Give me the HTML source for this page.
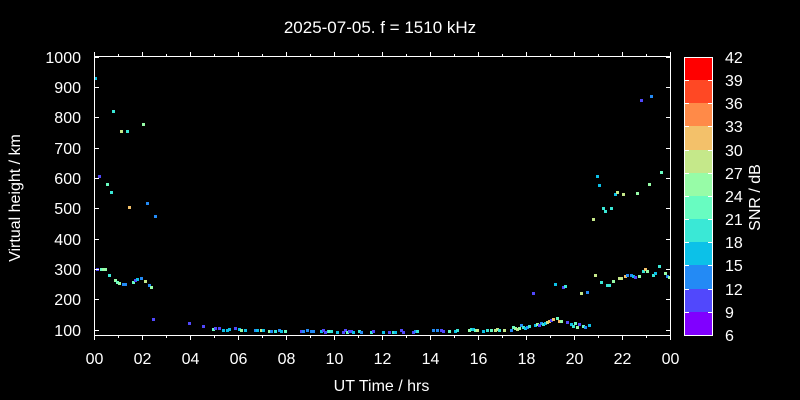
<!DOCTYPE html>
<html><head><meta charset="utf-8"><style>
html,body{margin:0;padding:0;background:#000;}
svg{display:block;}
text{font-family:"Liberation Sans",Arial,sans-serif;fill:#fff;}
.P{fill:#5148fc}.B{fill:#238af5}.C{fill:#0cc1e8}.T{fill:#3ae8d6}.G{fill:#68fcc1}.L{fill:#97fca7}.Y{fill:#c5e88a}.O{fill:#f3c16a}
</style></head><body>
<svg width="800" height="400" viewBox="0 0 800 400" xmlns="http://www.w3.org/2000/svg" shape-rendering="crispEdges">
<rect x="0" y="0" width="800" height="400" fill="#000"/>
<text x="380" y="33" font-size="17" text-anchor="middle">2025-07-05. f = 1510 kHz</text>

<!-- points -->
<g>
<rect class="C" x="94" y="77" width="3" height="3"/>
<rect class="P" x="98" y="175" width="3" height="3"/>
<rect class="T" x="112" y="110" width="3" height="3"/>
<rect class="G" x="106" y="183" width="3" height="3"/>
<rect class="T" x="110" y="191" width="3" height="3"/>
<rect class="Y" x="120" y="130" width="3" height="3"/>
<rect class="T" x="126" y="130" width="3" height="3"/>
<rect class="L" x="142" y="123" width="3" height="3"/>
<rect class="O" x="128" y="206" width="3" height="3"/>
<rect class="B" x="146" y="202" width="3" height="3"/>
<rect class="B" x="154" y="215" width="3" height="3"/>
<rect class="P" x="96" y="268" width="3" height="3"/>
<rect class="G" x="100" y="268" width="3" height="3"/>
<rect class="L" x="102" y="268" width="3" height="3"/>
<rect class="L" x="104" y="268" width="3" height="3"/>
<rect class="T" x="108" y="274" width="3" height="3"/>
<rect class="L" x="114" y="279" width="3" height="3"/>
<rect class="G" x="116" y="281" width="3" height="3"/>
<rect class="L" x="118" y="282" width="3" height="3"/>
<rect class="B" x="122" y="283" width="3" height="3"/>
<rect class="B" x="124" y="283" width="3" height="3"/>
<rect class="G" x="132" y="281" width="3" height="3"/>
<rect class="P" x="134" y="279" width="3" height="3"/>
<rect class="C" x="136" y="278" width="3" height="3"/>
<rect class="B" x="140" y="277" width="3" height="3"/>
<rect class="Y" x="144" y="280" width="3" height="3"/>
<rect class="B" x="148" y="284" width="3" height="3"/>
<rect class="L" x="150" y="286" width="3" height="3"/>
<rect class="P" x="152" y="318" width="3" height="3"/>
<rect class="P" x="188" y="322" width="3" height="3"/>
<rect class="P" x="202" y="325" width="3" height="3"/>

<rect class="G" x="212" y="328" width="3" height="3"/>
<rect class="P" x="214" y="327" width="3" height="3"/>
<rect class="P" x="218" y="327" width="3" height="3"/>
<rect class="C" x="222" y="329" width="3" height="3"/>
<rect class="C" x="226" y="329" width="3" height="3"/>
<rect class="C" x="228" y="328" width="3" height="3"/>
<rect class="P" x="234" y="327" width="3" height="3"/>
<rect class="C" x="238" y="328" width="3" height="3"/>
<rect class="L" x="240" y="329" width="3" height="3"/>
<rect class="C" x="244" y="329" width="3" height="3"/>
<rect class="B" x="254" y="329" width="3" height="3"/>
<rect class="C" x="256" y="329" width="3" height="3"/>
<rect class="Y" x="260" y="329" width="3" height="3"/>
<rect class="C" x="262" y="329" width="3" height="3"/>
<rect class="L" x="268" y="330" width="3" height="3"/>
<rect class="B" x="270" y="330" width="3" height="3"/>
<rect class="T" x="274" y="330" width="3" height="3"/>
<rect class="B" x="278" y="329" width="3" height="3"/>
<rect class="C" x="280" y="330" width="3" height="3"/>
<rect class="G" x="284" y="330" width="3" height="3"/>
<rect class="P" x="300" y="330" width="3" height="3"/>
<rect class="B" x="302" y="330" width="3" height="3"/>
<rect class="B" x="306" y="329" width="3" height="3"/>
<rect class="B" x="310" y="330" width="3" height="3"/>
<rect class="B" x="312" y="330" width="3" height="3"/>
<rect class="C" x="320" y="330" width="3" height="3"/>
<rect class="P" x="322" y="329" width="3" height="3"/>
<rect class="P" x="324" y="331" width="3" height="3"/>
<rect class="T" x="327" y="330" width="3" height="3"/>
<rect class="G" x="328" y="330" width="3" height="3"/>
<rect class="T" x="330" y="330" width="3" height="3"/>
<rect class="C" x="336" y="331" width="3" height="3"/>
<rect class="P" x="342" y="331" width="3" height="3"/>
<rect class="P" x="344" y="329" width="3" height="3"/>
<rect class="G" x="346" y="331" width="3" height="3"/>
<rect class="P" x="348" y="330" width="3" height="3"/>
<rect class="P" x="350" y="330" width="3" height="3"/>
<rect class="C" x="352" y="331" width="3" height="3"/>
<rect class="T" x="358" y="330" width="3" height="3"/>
<rect class="B" x="360" y="331" width="3" height="3"/>
<rect class="T" x="370" y="331" width="3" height="3"/>
<rect class="P" x="372" y="330" width="3" height="3"/>
<rect class="C" x="382" y="331" width="3" height="3"/>
<rect class="P" x="388" y="331" width="3" height="3"/>
<rect class="T" x="392" y="331" width="3" height="3"/>
<rect class="C" x="394" y="331" width="3" height="3"/>
<rect class="P" x="400" y="329" width="3" height="3"/>
<rect class="P" x="402" y="331" width="3" height="3"/>
<rect class="P" x="412" y="331" width="3" height="3"/>
<rect class="B" x="414" y="330" width="3" height="3"/>
<rect class="T" x="416" y="330" width="3" height="3"/>
<rect class="B" x="432" y="329" width="3" height="3"/>
<rect class="B" x="436" y="329" width="3" height="3"/>
<rect class="P" x="440" y="329" width="3" height="3"/>
<rect class="P" x="442" y="330" width="3" height="3"/>
<rect class="G" x="448" y="330" width="3" height="3"/>
<rect class="C" x="454" y="330" width="3" height="3"/>
<rect class="T" x="456" y="329" width="3" height="3"/>
<rect class="L" x="468" y="329" width="3" height="3"/>
<rect class="T" x="470" y="328" width="3" height="3"/>
<rect class="C" x="472" y="328" width="3" height="3"/>
<rect class="G" x="474" y="329" width="3" height="3"/>
<rect class="Y" x="476" y="329" width="3" height="3"/>
<rect class="C" x="482" y="330" width="3" height="3"/>
<rect class="T" x="486" y="329" width="3" height="3"/>
<rect class="G" x="490" y="329" width="3" height="3"/>
<rect class="Y" x="494" y="329" width="3" height="3"/>
<rect class="Y" x="496" y="328" width="3" height="3"/>
<rect class="T" x="498" y="329" width="3" height="3"/>
<rect class="Y" x="503" y="329" width="3" height="3"/>
<rect class="B" x="510" y="329" width="3" height="3"/>
<rect class="G" x="512" y="326" width="3" height="3"/>
<rect class="L" x="514" y="327" width="3" height="3"/>
<rect class="Y" x="516" y="328" width="3" height="3"/>
<rect class="L" x="518" y="327" width="3" height="3"/>
<rect class="B" x="520" y="324" width="3" height="3"/>
<rect class="T" x="522" y="326" width="3" height="3"/>
<rect class="C" x="524" y="327" width="3" height="3"/>
<rect class="B" x="526" y="326" width="3" height="3"/>
<rect class="T" x="528" y="325" width="3" height="3"/>
<rect class="C" x="534" y="324" width="3" height="3"/>
<rect class="L" x="536" y="323" width="3" height="3"/>
<rect class="P" x="538" y="324" width="3" height="3"/>
<rect class="B" x="540" y="322" width="3" height="3"/>
<rect class="T" x="542" y="323" width="3" height="3"/>
<rect class="C" x="544" y="322" width="3" height="3"/>
<rect class="Y" x="546" y="321" width="3" height="3"/>
<rect class="O" x="548" y="320" width="3" height="3"/>
<rect class="P" x="550" y="319" width="3" height="3"/>
<rect class="O" x="552" y="318" width="3" height="3"/>
<rect class="G" x="556" y="317" width="3" height="3"/>
<rect class="O" x="558" y="320" width="3" height="3"/>
<rect class="L" x="560" y="320" width="3" height="3"/>
<rect class="P" x="566" y="321" width="3" height="3"/>
<rect class="C" x="570" y="323" width="3" height="3"/>
<rect class="T" x="572" y="325" width="3" height="3"/>
<rect class="G" x="574" y="322" width="3" height="3"/>
<rect class="L" x="576" y="326" width="3" height="3"/>
<rect class="P" x="578" y="323" width="3" height="3"/>
<rect class="G" x="582" y="325" width="3" height="3"/>
<rect class="B" x="584" y="326" width="3" height="3"/>
<rect class="C" x="588" y="324" width="3" height="3"/>

<rect class="P" x="532" y="292" width="3" height="3"/>
<rect class="C" x="554" y="283" width="3" height="3"/>
<rect class="P" x="562" y="286" width="3" height="3"/>
<rect class="T" x="564" y="285" width="3" height="3"/>
<rect class="Y" x="580" y="292" width="3" height="3"/>
<rect class="B" x="586" y="291" width="3" height="3"/>
<rect class="Y" x="594" y="274" width="3" height="3"/>
<rect class="T" x="600" y="281" width="3" height="3"/>
<rect class="T" x="606" y="284" width="3" height="3"/>
<rect class="T" x="608" y="284" width="3" height="3"/>
<rect class="L" x="612" y="280" width="3" height="3"/>
<rect class="Y" x="618" y="277" width="3" height="3"/>
<rect class="Y" x="620" y="277" width="3" height="3"/>
<rect class="O" x="624" y="275" width="3" height="3"/>
<rect class="B" x="626" y="274" width="3" height="3"/>
<rect class="B" x="630" y="274" width="3" height="3"/>
<rect class="C" x="632" y="275" width="3" height="3"/>
<rect class="P" x="634" y="276" width="3" height="3"/>
<rect class="L" x="638" y="275" width="3" height="3"/>
<rect class="T" x="642" y="270" width="3" height="3"/>
<rect class="O" x="644" y="268" width="3" height="3"/>
<rect class="L" x="646" y="270" width="3" height="3"/>
<rect class="T" x="652" y="274" width="3" height="3"/>
<rect class="C" x="654" y="272" width="3" height="3"/>
<rect class="T" x="658" y="265" width="3" height="3"/>
<rect class="L" x="664" y="272" width="3" height="3"/>
<rect class="B" x="666" y="275" width="3" height="3"/>
<rect class="L" x="668" y="276" width="3" height="3"/>

<rect class="Y" x="592" y="218" width="3" height="3"/>
<rect class="T" x="602" y="207" width="3" height="3"/>
<rect class="T" x="604" y="210" width="3" height="3"/>
<rect class="T" x="610" y="207" width="3" height="3"/>
<rect class="C" x="596" y="175" width="3" height="3"/>
<rect class="C" x="598" y="184" width="3" height="3"/>
<rect class="C" x="614" y="193" width="3" height="3"/>
<rect class="Y" x="616" y="191" width="3" height="3"/>
<rect class="Y" x="622" y="193" width="3" height="3"/>
<rect class="L" x="636" y="192" width="3" height="3"/>
<rect class="L" x="648" y="183" width="3" height="3"/>
<rect class="G" x="660" y="171" width="3" height="3"/>
<rect class="P" x="640" y="99" width="3" height="3"/>
<rect class="B" x="650" y="95" width="3" height="3"/>
</g>

<!-- frame -->
<g fill="#fff">
<rect x="94" y="56" width="577" height="1"/>
<rect x="94" y="335" width="577" height="1"/>
<rect x="94" y="56" width="1" height="280"/>
<rect x="670" y="56" width="1" height="280"/>
<!-- top ticks -->
<rect x="94" y="52" width="1" height="4"/><rect x="118" y="54" width="1" height="2"/>
<rect x="142" y="52" width="1" height="4"/><rect x="166" y="54" width="1" height="2"/>
<rect x="190" y="52" width="1" height="4"/><rect x="214" y="54" width="1" height="2"/>
<rect x="238" y="52" width="1" height="4"/><rect x="262" y="54" width="1" height="2"/>
<rect x="286" y="52" width="1" height="4"/><rect x="310" y="54" width="1" height="2"/>
<rect x="334" y="52" width="1" height="4"/><rect x="358" y="54" width="1" height="2"/>
<rect x="382" y="52" width="1" height="4"/><rect x="406" y="54" width="1" height="2"/>
<rect x="430" y="52" width="1" height="4"/><rect x="454" y="54" width="1" height="2"/>
<rect x="478" y="52" width="1" height="4"/><rect x="502" y="54" width="1" height="2"/>
<rect x="526" y="52" width="1" height="4"/><rect x="550" y="54" width="1" height="2"/>
<rect x="574" y="52" width="1" height="4"/><rect x="598" y="54" width="1" height="2"/>
<rect x="622" y="52" width="1" height="4"/><rect x="646" y="54" width="1" height="2"/>
<rect x="670" y="52" width="1" height="4"/>
<!-- bottom ticks -->
<rect x="94" y="336" width="1" height="4"/><rect x="118" y="336" width="1" height="2"/>
<rect x="142" y="336" width="1" height="4"/><rect x="166" y="336" width="1" height="2"/>
<rect x="190" y="336" width="1" height="4"/><rect x="214" y="336" width="1" height="2"/>
<rect x="238" y="336" width="1" height="4"/><rect x="262" y="336" width="1" height="2"/>
<rect x="286" y="336" width="1" height="4"/><rect x="310" y="336" width="1" height="2"/>
<rect x="334" y="336" width="1" height="4"/><rect x="358" y="336" width="1" height="2"/>
<rect x="382" y="336" width="1" height="4"/><rect x="406" y="336" width="1" height="2"/>
<rect x="430" y="336" width="1" height="4"/><rect x="454" y="336" width="1" height="2"/>
<rect x="478" y="336" width="1" height="4"/><rect x="502" y="336" width="1" height="2"/>
<rect x="526" y="336" width="1" height="4"/><rect x="550" y="336" width="1" height="2"/>
<rect x="574" y="336" width="1" height="4"/><rect x="598" y="336" width="1" height="2"/>
<rect x="622" y="336" width="1" height="4"/><rect x="646" y="336" width="1" height="2"/>
<rect x="670" y="336" width="1" height="4"/>
<!-- left/right y ticks -->
<rect x="95" y="57" width="4" height="1"/><rect x="666" y="57" width="4" height="1"/>
<rect x="95" y="87" width="4" height="1"/><rect x="666" y="87" width="4" height="1"/>
<rect x="95" y="117" width="4" height="1"/><rect x="666" y="117" width="4" height="1"/>
<rect x="95" y="148" width="4" height="1"/><rect x="666" y="148" width="4" height="1"/>
<rect x="95" y="178" width="4" height="1"/><rect x="666" y="178" width="4" height="1"/>
<rect x="95" y="208" width="4" height="1"/><rect x="666" y="208" width="4" height="1"/>
<rect x="95" y="239" width="4" height="1"/><rect x="666" y="239" width="4" height="1"/>
<rect x="95" y="269" width="4" height="1"/><rect x="666" y="269" width="4" height="1"/>
<rect x="95" y="299" width="4" height="1"/><rect x="666" y="299" width="4" height="1"/>
<rect x="95" y="330" width="4" height="1"/><rect x="666" y="330" width="4" height="1"/>
</g>

<!-- y labels -->
<g font-size="16" text-anchor="end">
<text x="81" y="63">1000</text>
<text x="81" y="93">900</text>
<text x="81" y="123">800</text>
<text x="81" y="154">700</text>
<text x="81" y="184">600</text>
<text x="81" y="214">500</text>
<text x="81" y="245">400</text>
<text x="81" y="275">300</text>
<text x="81" y="305">200</text>
<text x="81" y="336">100</text>
</g>
<!-- x labels -->
<g font-size="16" text-anchor="middle">
<text x="94.5" y="364">00</text>
<text x="142.5" y="364">02</text>
<text x="190.5" y="364">04</text>
<text x="238.5" y="364">06</text>
<text x="286.5" y="364">08</text>
<text x="334.5" y="364">10</text>
<text x="382.5" y="364">12</text>
<text x="430.5" y="364">14</text>
<text x="478.5" y="364">16</text>
<text x="526.5" y="364">18</text>
<text x="574.5" y="364">20</text>
<text x="622.5" y="364">22</text>
<text x="670.5" y="364">00</text>
</g>
<text x="381.5" y="391" font-size="16" text-anchor="middle">UT Time / hrs</text>
<text transform="translate(20,198) rotate(-90)" font-size="16" text-anchor="middle">Virtual height / km</text>

<!-- colorbar -->
<g>
<rect x="685" y="57" width="27" height="24" fill="#ff0000"/>
<rect x="685" y="80" width="27" height="24" fill="#ff4824"/>
<rect x="685" y="103" width="27" height="24" fill="#ff8a48"/>
<rect x="685" y="126" width="27" height="24" fill="#f3c16a"/>
<rect x="685" y="150" width="27" height="24" fill="#c5e88a"/>
<rect x="685" y="173" width="27" height="24" fill="#97fca7"/>
<rect x="685" y="196" width="27" height="24" fill="#68fcc1"/>
<rect x="685" y="219" width="27" height="24" fill="#3ae8d6"/>
<rect x="685" y="242" width="27" height="24" fill="#0cc1e8"/>
<rect x="685" y="265" width="27" height="24" fill="#238af5"/>
<rect x="685" y="289" width="27" height="23" fill="#5148fc"/>
<rect x="685" y="312" width="27" height="23" fill="#8000ff"/>
</g>
<g fill="#fff">
<rect x="684" y="57" width="29" height="1"/>
<rect x="684" y="335" width="29" height="1"/>
<rect x="684" y="57" width="1" height="279"/>
<rect x="712" y="57" width="1" height="279"/>
<rect x="685" y="80" width="4" height="1"/><rect x="708" y="80" width="4" height="1"/>
<rect x="685" y="103" width="4" height="1"/><rect x="708" y="103" width="4" height="1"/>
<rect x="685" y="126" width="4" height="1"/><rect x="708" y="126" width="4" height="1"/>
<rect x="685" y="150" width="4" height="1"/><rect x="708" y="150" width="4" height="1"/>
<rect x="685" y="173" width="4" height="1"/><rect x="708" y="173" width="4" height="1"/>
<rect x="685" y="196" width="4" height="1"/><rect x="708" y="196" width="4" height="1"/>
<rect x="685" y="219" width="4" height="1"/><rect x="708" y="219" width="4" height="1"/>
<rect x="685" y="242" width="4" height="1"/><rect x="708" y="242" width="4" height="1"/>
<rect x="685" y="265" width="4" height="1"/><rect x="708" y="265" width="4" height="1"/>
<rect x="685" y="289" width="4" height="1"/><rect x="708" y="289" width="4" height="1"/>
<rect x="685" y="312" width="4" height="1"/><rect x="708" y="312" width="4" height="1"/>
</g>
<g font-size="16">
<text x="725" y="63">42</text>
<text x="725" y="86">39</text>
<text x="725" y="109">36</text>
<text x="725" y="132">33</text>
<text x="725" y="156">30</text>
<text x="725" y="179">27</text>
<text x="725" y="202">24</text>
<text x="725" y="225">21</text>
<text x="725" y="248">18</text>
<text x="725" y="271">15</text>
<text x="725" y="295">12</text>
<text x="725" y="318">9</text>
<text x="725" y="341">6</text>
</g>
<text transform="translate(760,197.5) rotate(-90)" font-size="16" text-anchor="middle">SNR / dB</text>
</svg>
</body></html>
